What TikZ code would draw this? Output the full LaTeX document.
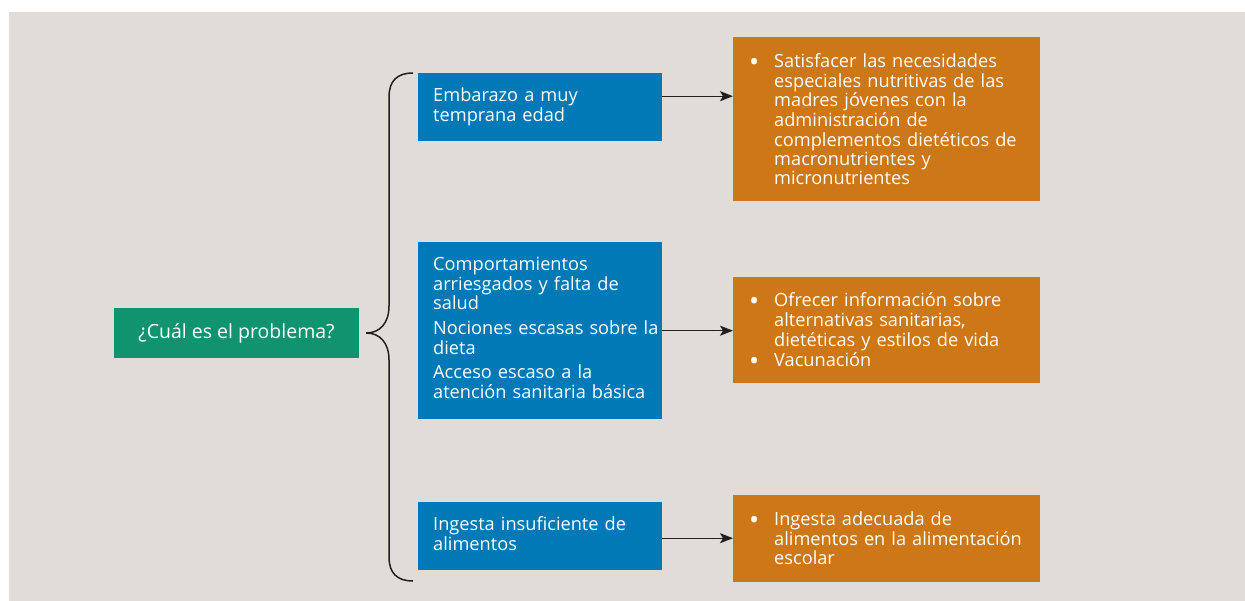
\documentclass[tikz,border=0pt]{standalone}
\usepackage{fontspec}
\setmainfont{Open Sans}
\usetikzlibrary{arrows.meta, positioning}

\definecolor{bggray}{RGB}{224,221,216}
\definecolor{probgreen}{RGB}{16,147,111}
\definecolor{causeblue}{RGB}{0,121,182}
\definecolor{actorange}{RGB}{206,119,22}
\definecolor{linegray}{RGB}{35,31,32}

\newcommand{\lines}[1]{\begin{tabular}[t]{@{}l@{}}#1\end{tabular}}
\newcommand{\bitem}[1]{\par\noindent\makebox[26pt][l]{\hspace{1pt}\raisebox{-4pt}[0pt][0pt]{\fontsize{27}{19}\selectfont\textbullet}}\lines{#1}\par}

\begin{document}
\begin{tikzpicture}[
    x=1pt, y=-1pt,
    base/.style={rectangle, anchor=north west, inner ysep=0pt, text=white,
                 font=\fontsize{18.2}{19}\selectfont},
    problem/.style={base, fill=probgreen, anchor=center, font=\fontsize{19.5}{22}\selectfont,
                    minimum width=245pt, minimum height=50pt},
    cause/.style={base, fill=causeblue, inner xsep=15pt, text width=214pt, align=left},
    action/.style={base, fill=actorange, inner xsep=15pt, text width=277pt, align=left},
    arr/.style={-{Stealth[length=13pt, width=10pt, inset=3pt]}, line width=1.2pt, draw=linegray}
]
\useasboundingbox (0,0) rectangle (1245,601);
\fill[bggray] (9,12) rectangle (1245,601);

\node[problem] (prob) at (236.5,333) {¿Cuál es el problema?};

\node[cause, minimum height=68pt] (emb) at (418,73)
    {\lines{Embarazo a muy\\temprana edad}};
\node[cause, minimum height=177pt] (beh) at (418,242)
    {\lines{Comportamientos\\arriesgados y falta de\\salud\\[5pt]
     Nociones escasas sobre la\\dieta\\[5pt]
     Acceso escaso a la\\atención sanitaria básica}};
\node[cause, minimum height=68pt] (ing) at (418,502)
    {\lines{Ingesta insuficiente de\\alimentos}};

\node[action, minimum height=164pt] (sat) at (733,37)
    {\bitem{Satisfacer las necesidades\\especiales nutritivas de las\\madres jóvenes con la\\administración de\\complementos dietéticos de\\macronutrientes y\\micronutrientes}};
\node[action, minimum height=106pt] (ofr) at (733,277)
    {\bitem{Ofrecer información sobre\\alternativas sanitarias,\\dietéticas y estilos de vida}
     \bitem{Vacunación}};
\node[action, minimum height=87pt] (ade) at (733,495)
    {\bitem{Ingesta adecuada de\\alimentos en la alimentación\\escolar}};

% brace from the problem to the causes
\coordinate (tip) at ([xshift=7pt]prob.east);
\draw[line width=1.5pt, draw=linegray]
    ([xshift=-5pt]emb.north west) .. controls (397,73) and (389,81) .. (389,97)
    -- (389,306) .. controls (389,323) and (380,333) .. (tip)
    .. controls (380,333) and (389,343) .. (389,360)
    -- (389,557) .. controls (389,573) and (397,581) .. (413,581);

\draw[arr] ([yshift=11pt]emb.east) -- ([yshift=11pt]emb.east -| sat.west);
\draw[arr] (beh.east) -- (beh.east -| ofr.west);
\draw[arr] ([yshift=-2pt]ing.east) -- ([yshift=-2pt]ing.east -| ade.west);
\end{tikzpicture}
\end{document}
